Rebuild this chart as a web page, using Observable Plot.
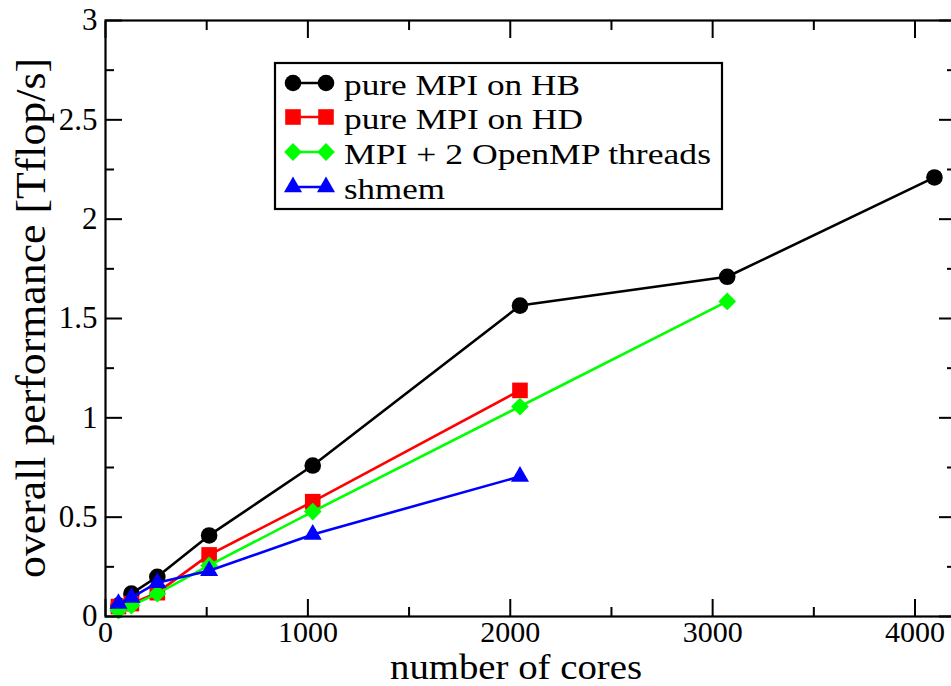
<!DOCTYPE html>
<html><head><meta charset="utf-8">
<script src="https://cdn.jsdelivr.net/npm/d3@7"></script>
<script src="https://cdn.jsdelivr.net/npm/@observablehq/plot@0.6"></script>
<style>html,body{margin:0;padding:0;background:#fff;overflow:hidden}</style>
</head><body><div id="chart"></div>
<script>
// ---- data ----
const hbCores = [64, 128, 256, 512, 1024, 2048, 3072, 4096];
const hbPerf = [0.055, 0.115, 0.2, 0.408, 0.76, 1.565, 1.71, 2.21];
const hdCores = [64, 128, 256, 512, 1024, 2048];
const hdPerf = [0.05, 0.065, 0.12, 0.31, 0.578, 1.138];
const ompCores = [64, 128, 256, 512, 1024, 2048, 3072];
const ompPerf = [0.03, 0.055, 0.115, 0.257, 0.528, 1.057, 1.586];
const shmemCores = [64, 128, 256, 512, 1024, 2048];
const shmemPerf = [0.065, 0.095, 0.17, 0.23, 0.413, 0.705];

const seriesNames = ["pure MPI on HB", "pure MPI on HD", "MPI + 2 OpenMP threads", "shmem"];
const xMajorTicks = [0, 1000, 2000, 3000, 4000];
const xMinorTicks = [500, 1500, 2500, 3500];
const yMajorTicks = [0, 0.5, 1, 1.5, 2, 2.5, 3];
const yMinorTicks = [0.25, 0.75, 1.25, 1.75, 2.25, 2.75];
const xTitle = "number of cores";
const yTitle = "overall performance [Tflop/s]";

const FONT = "Liberation Serif, Times New Roman, Times, serif";
const mk = (xs, ys) => xs.map((x, i) => ({x, y: ys[i]}));
const series = [
  {name: seriesNames[0], color: "#000000", symbol: "circle", r: 8.3, data: mk(hbCores, hbPerf), legendLen: 236},
  {name: seriesNames[1], color: "#ff0000", symbol: "square", r: 8.8, data: mk(hdCores, hdPerf), legendLen: 239},
  {name: seriesNames[2], color: "#00ff00", symbol: "diamond2", r: 8.0, data: mk(ompCores, ompPerf), legendLen: 367},
  {name: seriesNames[3], color: "#0000ff", symbol: "triangle", r: 6.7, data: mk(shmemCores, shmemPerf), legendLen: 101}
];

const marks = [];
for (const s of series) {
  marks.push(Plot.line(s.data, {x: "x", y: "y", stroke: s.color, strokeWidth: 2.6}));
  marks.push(Plot.dot(s.data, {x: "x", y: "y", fill: s.color, stroke: "none", symbol: s.symbol, r: s.r}));
}
const blank = () => "";
const num = d => String(d);
marks.push(
  Plot.axisX(xMajorTicks, {anchor: "bottom", tickSize: -17, tickFormat: blank, label: null, strokeWidth: 2}),
  Plot.axisX(xMinorTicks, {anchor: "bottom", tickSize: -9, tickFormat: blank, label: null, strokeWidth: 2}),
  Plot.axisX(xMajorTicks, {anchor: "top", tickSize: -17, tickFormat: blank, label: null, strokeWidth: 2}),
  Plot.axisX(xMinorTicks, {anchor: "top", tickSize: -9, tickFormat: blank, label: null, strokeWidth: 2}),
  Plot.axisY(yMajorTicks, {anchor: "left", tickSize: -17, tickFormat: blank, label: null, strokeWidth: 2}),
  Plot.axisY(yMinorTicks, {anchor: "left", tickSize: -9, tickFormat: blank, label: null, strokeWidth: 2}),
  Plot.axisY(yMajorTicks, {anchor: "right", tickSize: -17, tickFormat: blank, label: null, strokeWidth: 2}),
  Plot.axisY(yMinorTicks, {anchor: "right", tickSize: -9, tickFormat: blank, label: null, strokeWidth: 2}),
  Plot.axisX(xMajorTicks, {anchor: "bottom", tickSize: 0, tickPadding: 4, tickFormat: num, label: null, fontSize: 30, fontFamily: FONT, fill: "#000"}),
  Plot.axisY(yMajorTicks, {anchor: "left", tickSize: 0, tickPadding: 8, tickFormat: num, label: null, fontSize: 31, fontFamily: FONT, fill: "#000"}),
  Plot.frame({stroke: "#000", strokeWidth: 2.2})
);

const chart = Plot.plot({
  width: 951,
  height: 686,
  marginLeft: 105,
  marginRight: -4,
  marginTop: 20,
  marginBottom: 70,
  style: {fontFamily: FONT, background: "#fff", color: "#000", overflow: "hidden"},
  x: {type: "linear", domain: [0, 4200]},
  y: {type: "linear", domain: [0, 3]},
  marks
});
document.getElementById("chart").appendChild(chart);

// ---- axis titles and legend ----
const svg = d3.select(chart);
svg.append("text")
  .attr("x", 516).attr("y", 679)
  .attr("text-anchor", "middle")
  .style("font-family", FONT).attr("font-size", 35).attr("fill", "#000")
  .attr("textLength", 252).attr("lengthAdjust", "spacingAndGlyphs")
  .text(xTitle);
svg.append("text")
  .attr("transform", "translate(45,318) rotate(-90)")
  .attr("text-anchor", "middle")
  .style("font-family", FONT).attr("font-size", 42).attr("fill", "#000")
  .attr("textLength", 520).attr("lengthAdjust", "spacingAndGlyphs")
  .text(yTitle);

const lg = svg.append("g");
lg.append("rect").attr("x", 275).attr("y", 63).attr("width", 447).attr("height", 146)
  .attr("fill", "#fff").attr("stroke", "#000").attr("stroke-width", 2.2);
const rowY = [83, 117, 152, 187];
const symMap = {circle: d3.symbolCircle, square: d3.symbolSquare, diamond2: d3.symbolDiamond2, triangle: d3.symbolTriangle};
series.forEach((s, i) => {
  const y = rowY[i];
  lg.append("line").attr("x1", 293).attr("x2", 326).attr("y1", y).attr("y2", y)
    .attr("stroke", s.color).attr("stroke-width", 2.6);
  const path = d3.symbol(symMap[s.symbol], Math.PI * s.r * s.r)();
  for (const cx of [293, 326]) {
    lg.append("path").attr("d", path).attr("transform", `translate(${cx},${y})`).attr("fill", s.color);
  }
  lg.append("text").attr("x", 344).attr("y", y + 12)
    .attr("text-anchor", "start")
    .style("font-family", FONT).attr("font-size", 29).attr("fill", "#000")
    .attr("textLength", s.legendLen).attr("lengthAdjust", "spacingAndGlyphs")
    .text(s.name);
});
</script></body></html>
